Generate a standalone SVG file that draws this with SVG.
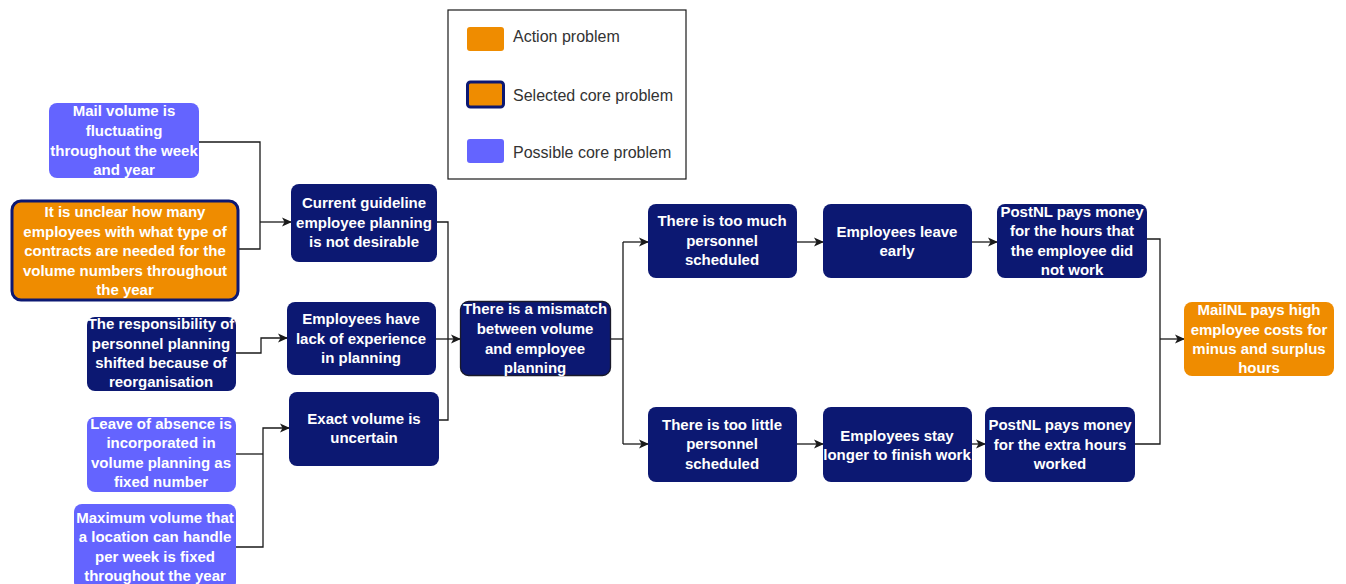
<svg xmlns="http://www.w3.org/2000/svg" width="1346" height="584" viewBox="0 0 1346 584">
<style>
.navy{fill:#0C1872;}
.purple{fill:#6464FF;}
.orange{fill:#EF8C00;}
.sel{stroke:#0C1872;stroke-width:3;}
.t{font-family:"Liberation Sans",Arial,sans-serif;font-size:15px;font-weight:bold;fill:#FFFFFF;text-anchor:middle;}
.lg{font-family:"Liberation Sans",Arial,sans-serif;font-size:16px;fill:#333333;}
.c{fill:none;stroke:#1a1a1a;stroke-width:1.3;}
</style>
<defs>
<marker id="arr" viewBox="0 0 10 10" refX="9" refY="5" markerWidth="10" markerHeight="10" markerUnits="userSpaceOnUse" orient="auto">
<path d="M0,0.5 L10,5 L0,9.5 L2.5,5 Z" fill="#1a1a1a"/>
</marker>
</defs>
<rect width="1346" height="584" fill="#FFFFFF"/>

<g id="legend">
<rect x="448" y="10" width="238" height="169" fill="#FFFFFF" stroke="#1a1a1a" stroke-width="1.2"/>
<rect x="467" y="27" width="37" height="24" rx="3" class="orange"/>
<rect x="467.5" y="82" width="36" height="25" rx="3" class="orange sel"/>
<rect x="467" y="139" width="37" height="24" rx="3" class="purple"/>
<text class="lg" x="513" y="42">Action problem</text>
<text class="lg" x="513" y="101">Selected core problem</text>
<text class="lg" x="513" y="158">Possible core problem</text>
</g>

<g id="connectors">
<path class="c" d="M199,142 H260 V249 H238"/>
<path class="c" d="M260,222 H291" marker-end="url(#arr)"/>
<path class="c" d="M236,353 H261 V338 H287" marker-end="url(#arr)"/>
<path class="c" d="M236,454 H263"/>
<path class="c" d="M236,547 H263 V428 H289" marker-end="url(#arr)"/>
<path class="c" d="M437,222 H448 V420 H439"/>
<path class="c" d="M436,339 H460" marker-end="url(#arr)"/>
<path class="c" d="M611,339 H623"/>
<path class="c" d="M623,242 V444"/>
<path class="c" d="M623,242 H648" marker-end="url(#arr)"/>
<path class="c" d="M623,444 H648" marker-end="url(#arr)"/>
<path class="c" d="M797,242 H823" marker-end="url(#arr)"/>
<path class="c" d="M797,444 H823" marker-end="url(#arr)"/>
<path class="c" d="M972,242 H997" marker-end="url(#arr)"/>
<path class="c" d="M972,444 H985" marker-end="url(#arr)"/>
<path class="c" d="M1147,239 H1160 V444 H1135"/>
<path class="c" d="M1160,339 H1184" marker-end="url(#arr)"/>
</g>

<g id="n-mail-volume">
<rect x="49" y="103" width="150" height="75" rx="8" class="purple"/>
<text class="t"><tspan x="124" y="116">Mail volume is</tspan><tspan x="124" y="136">fluctuating</tspan><tspan x="124" y="156">throughout the week</tspan><tspan x="124" y="175">and year</tspan></text>
</g>

<g id="n-unclear">
<rect x="12" y="201" width="226" height="99" rx="9" class="orange sel"/>
<text class="t"><tspan x="125" y="217">It is unclear how many</tspan><tspan x="125" y="237">employees with what type of</tspan><tspan x="125" y="256">contracts are needed for the</tspan><tspan x="125" y="276">volume numbers throughout</tspan><tspan x="125" y="295">the year</tspan></text>
</g>

<g id="n-responsibility">
<rect x="87" y="317" width="149" height="74" rx="8" class="navy"/>
<text class="t"><tspan x="161" y="329">The responsibility of</tspan><tspan x="161" y="349">personnel planning</tspan><tspan x="161" y="368">shifted because of</tspan><tspan x="161" y="387">reorganisation</tspan></text>
</g>

<g id="n-leave">
<rect x="87" y="417" width="149" height="75" rx="8" class="purple"/>
<text class="t"><tspan x="161" y="429">Leave of absence is</tspan><tspan x="161" y="448">incorporated in</tspan><tspan x="161" y="468">volume planning as</tspan><tspan x="161" y="487">fixed number</tspan></text>
</g>

<g id="n-maximum">
<rect x="74" y="504" width="162" height="86" rx="8" class="purple"/>
<text class="t"><tspan x="155" y="523">Maximum volume that</tspan><tspan x="155" y="542">a location can handle</tspan><tspan x="155" y="562">per week is fixed</tspan><tspan x="155" y="581">throughout the year</tspan></text>
</g>

<g id="n-guideline">
<rect x="291" y="184" width="146" height="78" rx="8" class="navy"/>
<text class="t"><tspan x="364" y="208">Current guideline</tspan><tspan x="364" y="228">employee planning</tspan><tspan x="364" y="247">is not desirable</tspan></text>
</g>

<g id="n-experience">
<rect x="287" y="302" width="149" height="73" rx="8" class="navy"/>
<text class="t"><tspan x="361" y="324">Employees have</tspan><tspan x="361" y="344">lack of experience</tspan><tspan x="361" y="363">in planning</tspan></text>
</g>

<g id="n-exact">
<rect x="289" y="392" width="150" height="74" rx="8" class="navy"/>
<text class="t"><tspan x="364" y="424">Exact volume is</tspan><tspan x="364" y="443">uncertain</tspan></text>
</g>

<g id="n-mismatch">
<rect x="460.5" y="301.5" width="150" height="74" rx="8" class="navy" stroke="#1a1a2a" stroke-width="1.3"/>
<text class="t"><tspan x="535" y="314">There is a mismatch</tspan><tspan x="535" y="334">between volume</tspan><tspan x="535" y="354">and employee</tspan><tspan x="535" y="373">planning</tspan></text>
</g>

<g id="n-too-much">
<rect x="648" y="204" width="149" height="74" rx="8" class="navy"/>
<text class="t"><tspan x="722" y="226">There is too much</tspan><tspan x="722" y="246">personnel</tspan><tspan x="722" y="265">scheduled</tspan></text>
</g>

<g id="n-too-little">
<rect x="648" y="407" width="149" height="75" rx="8" class="navy"/>
<text class="t"><tspan x="722" y="430">There is too little</tspan><tspan x="722" y="449">personnel</tspan><tspan x="722" y="469">scheduled</tspan></text>
</g>

<g id="n-leave-early">
<rect x="823" y="204" width="149" height="74" rx="8" class="navy"/>
<text class="t"><tspan x="897" y="237">Employees leave</tspan><tspan x="897" y="256">early</tspan></text>
</g>

<g id="n-stay-longer">
<rect x="823" y="407" width="149" height="75" rx="8" class="navy"/>
<text class="t"><tspan x="897" y="441">Employees stay</tspan><tspan x="897" y="460">longer to finish work</tspan></text>
</g>

<g id="n-pays-not-worked">
<rect x="997" y="204" width="150" height="74" rx="8" class="navy"/>
<text class="t"><tspan x="1072" y="217">PostNL pays money</tspan><tspan x="1072" y="236">for the hours that</tspan><tspan x="1072" y="256">the employee did</tspan><tspan x="1072" y="275">not work</tspan></text>
</g>

<g id="n-pays-extra">
<rect x="985" y="407" width="150" height="75" rx="8" class="navy"/>
<text class="t"><tspan x="1060" y="430">PostNL pays money</tspan><tspan x="1060" y="450">for the extra hours</tspan><tspan x="1060" y="469">worked</tspan></text>
</g>

<g id="n-mailnl">
<rect x="1184" y="302" width="150" height="74" rx="8" class="orange"/>
<text class="t"><tspan x="1259" y="315">MailNL pays high</tspan><tspan x="1259" y="335">employee costs for</tspan><tspan x="1259" y="354">minus and surplus</tspan><tspan x="1259" y="373">hours</tspan></text>
</g>
</svg>
